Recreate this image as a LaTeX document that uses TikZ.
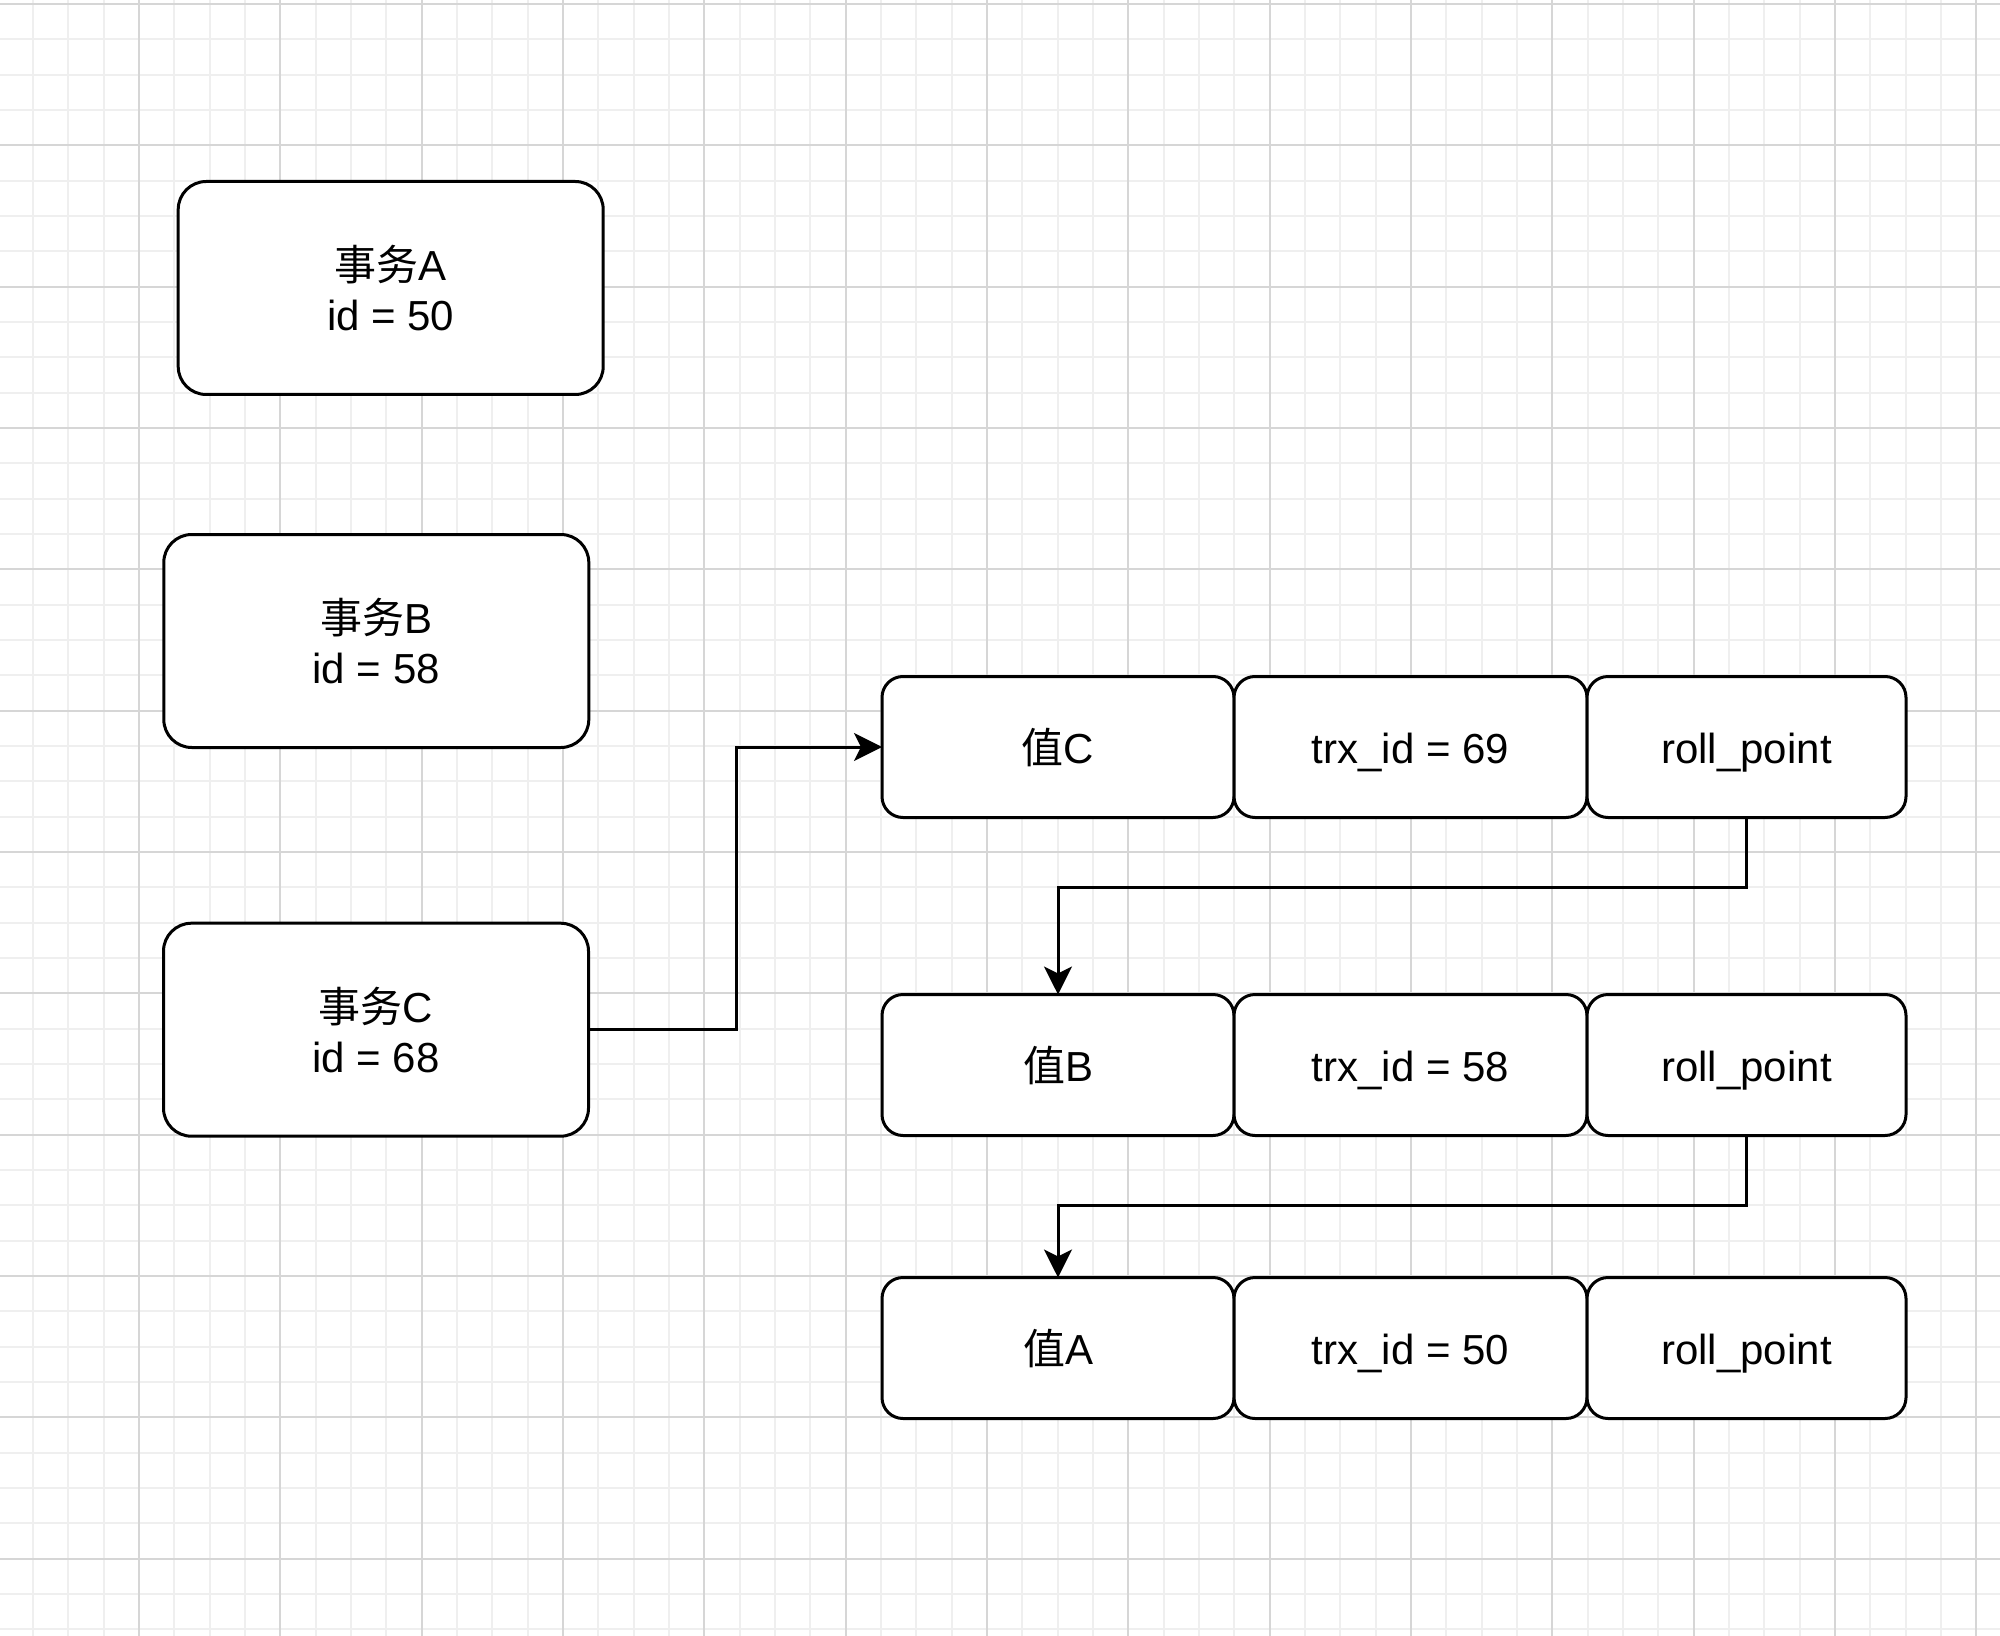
\documentclass[tikz,border=0pt]{standalone}
\usepackage{fontspec}
\setmainfont{Liberation Sans}
\newfontfamily\cjk{Noto Sans CJK SC}
\usetikzlibrary{positioning,arrows.meta,calc}
\definecolor{gridmajor}{HTML}{D6D6D6}
\definecolor{gridminor}{HTML}{EFEFEF}

\begin{document}
\begin{tikzpicture}[x=0.5pt,y=-0.5pt,
    tx/.style={draw,line width=1.5pt,rounded corners=14pt,fill=white,
      minimum width=212.5pt,minimum height=106.5pt,align=center,
      font=\fontsize{21}{25}\selectfont},
    cell/.style={draw,line width=1.5pt,rounded corners=10.5pt,fill=white,
      minimum height=70.5pt,outer sep=0pt,text height=21pt,text depth=4.2pt,
      font=\fontsize{21}{25}\selectfont},
    link/.style={line width=1.5pt,-{Stealth[length=14pt,width=14pt,inset=3.5pt]}}]
  % page and grid
  \fill[white] (0,0) rectangle (2000,1636);
  \useasboundingbox (0,0) rectangle (2000,1636);
  \foreach \k in {0,...,56}
    \draw[gridminor,line width=1pt] ({-2.3+35.33*\k},0) -- ({-2.3+35.33*\k},1636);
  \foreach \k in {0,...,46}
    \draw[gridminor,line width=1pt] (0,{4+35.33*\k}) -- (2000,{4+35.33*\k});
  \foreach \k in {1,...,14}
    \draw[gridmajor,line width=1pt] ({-2.3+141.33*\k},0) -- ({-2.3+141.33*\k},1636);
  \foreach \k in {0,...,11}
    \draw[gridmajor,line width=1pt] (0,{4+141.33*\k}) -- (2000,{4+141.33*\k});

  % transactions
  \node[tx] (txa) at (390.7,288) {{\cjk 事务}A\\id = 50};
  \node[tx] (txb) at (376.3,641) {{\cjk 事务}B\\id = 58};
  \node[tx] (txc) at (376,1029.7) {{\cjk 事务}C\\id = 68};

  % version chain
  \node[cell,minimum width=176pt] (valc) at (1058,747) {{\cjk 值}C};
  \node[cell,minimum width=176.5pt,right=0pt of valc] (trxc) {trx\_id = 69};
  \node[cell,minimum width=159.5pt,right=0pt of trxc] (rollc) {roll\_point};

  \node[cell,minimum width=176pt] (valb) at (1058,1065) {{\cjk 值}B};
  \node[cell,minimum width=176.5pt,right=0pt of valb] (trxb) {trx\_id = 58};
  \node[cell,minimum width=159.5pt,right=0pt of trxb] (rollb) {roll\_point};

  \node[cell,minimum width=176pt] (vala) at (1058,1348) {{\cjk 值}A};
  \node[cell,minimum width=176.5pt,right=0pt of vala] (trxa) {trx\_id = 50};
  \node[cell,minimum width=159.5pt,right=0pt of trxa] (rolla) {roll\_point};

  % pointers
  \draw[link] (txc.east) -| ($(txc.east)!0.5!(valc.west)$) |- (valc.west);
  \draw[link] (rollc.south) -- ++(0,70) -| (valb.north);
  \draw[link] (rollb.south) -- ++(0,70) -| (vala.north);
\end{tikzpicture}
\end{document}
